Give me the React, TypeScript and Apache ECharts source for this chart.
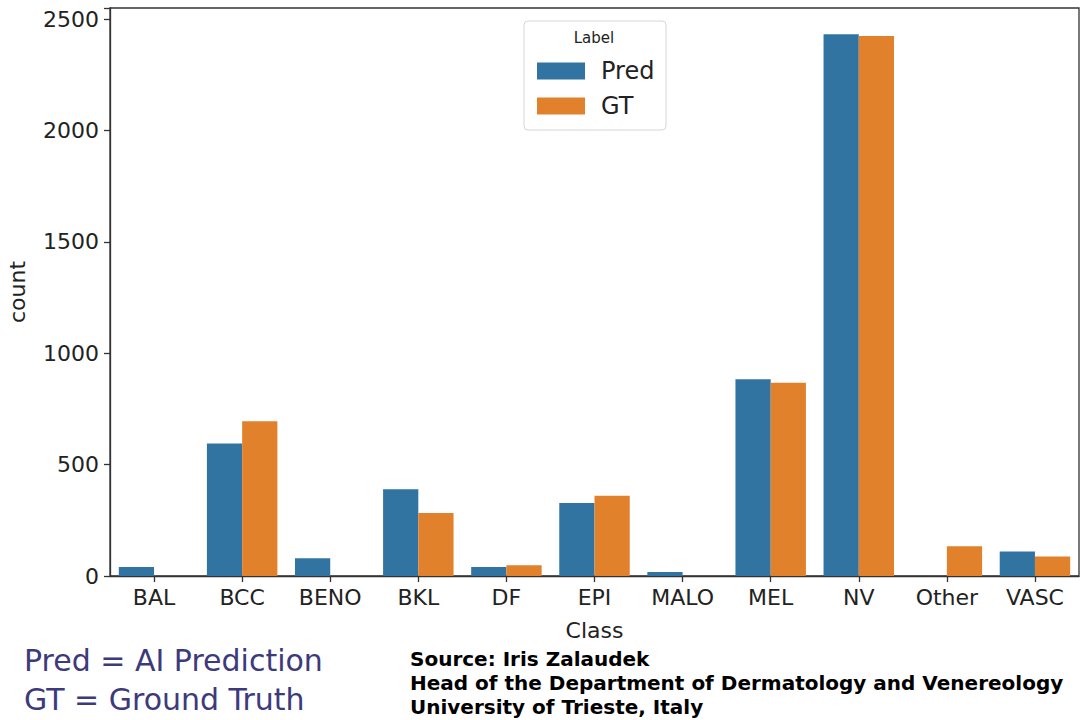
import React, { useEffect, useRef } from "react";
import * as echarts from "echarts";

const categories = ["BAL", "BCC", "BENO", "BKL", "DF", "EPI", "MALO", "MEL", "NV", "Other", "VASC"];
const predValues = [40, 595, 80, 390, 40, 328, 18, 883, 2432, 0, 110];
const gtValues = [0, 695, 0, 283, 48, 360, 0, 868, 2424, 133, 87];
const yTicks = [0, 500, 1000, 1500, 2000, 2500];
const seriesNames = ["Pred", "GT"];
const noteLines = ["Pred = AI Prediction", "GT = Ground Truth"];
const sourceLines = [
  "Source: Iris Zalaudek",
  "Head of the Department of Dermatology and Venereology",
  "University of Trieste, Italy",
];

const BLUE = "#3274a1";
const ORANGE = "#e1812c";
const AXIS = "#333333";
const FONT = "DejaVu Sans";

export default function App() {
  const ref = useRef<HTMLDivElement>(null);
  useEffect(() => {
    if (!ref.current) return;
    const chart = echarts.init(ref.current, undefined, { renderer: "svg" });
    chart.setOption({
      animation: false,
      backgroundColor: "#ffffff",
      grid: {
        left: 110,
        right: 7,
        top: 8,
        bottom: 144,
        outerBoundsMode: "none",
        containLabel: false,
        show: true,
        borderColor: AXIS,
        borderWidth: 1.3,
        backgroundColor: "transparent",
      },
      legend: {
        orient: "vertical",
        left: 532,
        top: 54,
        itemWidth: 48,
        itemHeight: 17,
        itemGap: 11,
        icon: "rect",
        data: seriesNames,
        textStyle: {
          fontFamily: FONT,
          fontSize: 24,
          color: "#222",
          padding: [0, 0, 0, 11],
          lineHeight: 24,
        },
      },
      xAxis: {
        type: "category",
        data: categories,
        name: "Class",
        nameLocation: "middle",
        nameGap: 43,
        nameTextStyle: { fontFamily: FONT, fontSize: 22, color: "#222" },
        axisLine: { show: true, lineStyle: { color: AXIS, width: 1.3 } },
        axisTick: { show: true, alignWithLabel: true, length: 6, lineStyle: { color: AXIS, width: 1.3 } },
        axisLabel: { fontFamily: FONT, fontSize: 22, color: "#222", margin: 10 },
      },
      yAxis: {
        type: "value",
        min: 0,
        max: 2550,
        interval: 500,
        name: "count",
        nameLocation: "middle",
        nameRotate: 90,
        nameGap: 82,
        nameTextStyle: { fontFamily: FONT, fontSize: 22, color: "#222" },
        splitLine: { show: false },
        axisLine: { show: true, lineStyle: { color: AXIS, width: 1.3 } },
        axisTick: { show: true, length: 6, lineStyle: { color: AXIS, width: 1.3 } },
        axisLabel: {
          fontFamily: FONT,
          fontSize: 22,
          color: "#222",
          margin: 11,
          formatter: (v: number) => (yTicks.includes(v) ? String(v) : ""),
        },
      },
      series: [
        {
          name: seriesNames[0],
          type: "bar",
          data: predValues,
          itemStyle: { color: BLUE },
          barGap: "0%",
          barCategoryGap: "20%",
        },
        {
          name: seriesNames[1],
          type: "bar",
          data: gtValues,
          itemStyle: { color: ORANGE },
          barGap: "0%",
          barCategoryGap: "20%",
        },
      ],
      graphic: [
        {
          type: "rect",
          z: -1,
          shape: { x: 524, y: 21, width: 142, height: 109, r: 4 },
          style: { fill: "rgba(255,255,255,0.85)", stroke: "#d6d6d6", lineWidth: 1 },
        },
        {
          type: "text",
          x: 594,
          y: 38,
          style: {
            text: "Label",
            fontFamily: FONT,
            fontSize: 15,
            fill: "#222",
            align: "center",
            verticalAlign: "middle",
          },
        },
        ...noteLines.map((t, i) => ({
          type: "text",
          x: 24,
          y: 660 + i * 39,
          style: {
            text: t,
            fontFamily: FONT,
            fontSize: 30,
            fill: "#3d3a7c",
            verticalAlign: "middle",
          },
        })),
        ...sourceLines.map((t, i) => ({
          type: "text",
          x: 410,
          y: 659 + i * 24,
          style: {
            text: t,
            fontFamily: FONT,
            fontWeight: "bold",
            fontSize: 20,
            fill: "#000",
            verticalAlign: "middle",
          },
        })),
      ],
    });
    return () => chart.dispose();
  }, []);
  return <div ref={ref} style={{ width: 1086, height: 720, position: "absolute", left: 0, top: 0 }} />;
}
